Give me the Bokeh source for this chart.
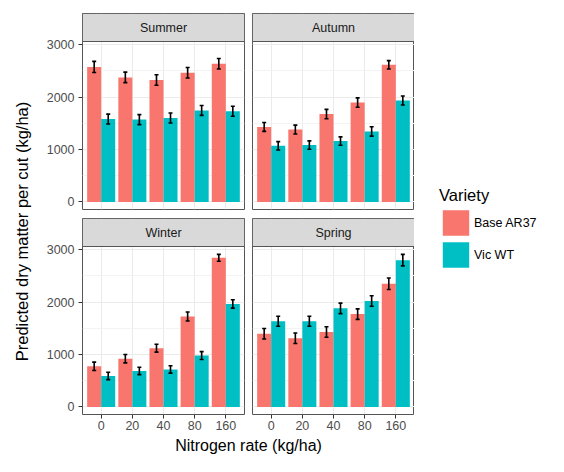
import numpy as np
from bokeh.plotting import figure
from bokeh.layouts import row, column
from bokeh.models import (ColumnDataSource, Range1d, FixedTicker, Whisker, TeeHead, Label,
                          Legend, LegendItem, BoxAnnotation)
from bokeh.transform import dodge
from bokeh.embed import file_html
from bokeh.resources import INLINE

# ---------------- data ----------------
nitrogen = ["0", "20", "40", "80", "160"]
varieties = ["Base AR37", "Vic WT"]
seasons = ["Summer", "Autumn", "Winter", "Spring"]
y_ticks = [0, 1000, 2000, 3000]
y_minor = [500, 1500, 2500]

summer_base = [2575, 2375, 2325, 2465, 2635]
summer_base_err = [105, 100, 100, 100, 100]
summer_vic = [1580, 1570, 1600, 1745, 1730]
summer_vic_err = [95, 95, 95, 95, 95]

autumn_base = [1430, 1380, 1675, 1895, 2615]
autumn_base_err = [85, 85, 90, 90, 80]
autumn_vic = [1070, 1085, 1160, 1345, 1935]
autumn_vic_err = [80, 80, 80, 90, 85]

winter_base = [775, 920, 1120, 1725, 2845]
winter_base_err = [80, 80, 75, 85, 65]
winter_vic = [590, 685, 715, 980, 1965]
winter_vic_err = [70, 70, 70, 75, 80]

spring_base = [1395, 1310, 1430, 1770, 2350]
spring_base_err = [100, 100, 100, 100, 110]
spring_vic = [1635, 1635, 1880, 2020, 2800]
spring_vic_err = [95, 95, 100, 100, 110]

colors = ["#F8766D", "#00BFC4"]
FONT = "Liberation Sans"
SMALL = "12.5px"
BIG = "16.5px"
BORDER = "#555555"

# layout geometry (px)
FRAME_W = 162
PANEL_PX = 168
STRIP_PX = 28
Y0, Y1 = -145, 3060
Y_END = Y1 + (Y1 - Y0) * STRIP_PX / PANEL_PX
X0, X1 = 0.4, len(nitrogen) + 0.6


def panel(season, base, base_err, vic, vic_err, show_x, show_y, width, height, mbl, mbr, mbt, mbb):
    p = figure(width=width, height=height, title=None,
               x_range=Range1d(X0, X1), y_range=Range1d(Y0, Y_END),
               x_axis_location="below" if show_x else None,
               y_axis_location="left" if show_y else None,
               min_border_left=mbl, min_border_right=mbr, min_border_top=mbt, min_border_bottom=mbb,
               toolbar_location=None, output_backend="svg",
               outline_line_color=BORDER, outline_line_width=1,
               background_fill_color="white", border_fill_color="white")
    xi = list(range(1, len(nitrogen) + 1))
    src = ColumnDataSource(dict(
        xi=xi, base=base, vic=vic,
        base_lo=[b - e for b, e in zip(base, base_err)], base_hi=[b + e for b, e in zip(base, base_err)],
        vic_lo=[v - e for v, e in zip(vic, vic_err)], vic_hi=[v + e for v, e in zip(vic, vic_err)],
    ))
    p.vbar(x=dodge("xi", -0.225), top="base", bottom=0, width=0.45, source=src,
           fill_color=colors[0], line_color=None)
    p.vbar(x=dodge("xi", 0.225), top="vic", bottom=0, width=0.45, source=src,
           fill_color=colors[1], line_color=None)
    for off, lo, hi in [(-0.225, "base_lo", "base_hi"), (0.225, "vic_lo", "vic_hi")]:
        w = Whisker(base=dodge("xi", off), lower=lo, upper=hi, source=src,
                    line_color="black", line_width=1.6, level="annotation",
                    upper_head=TeeHead(size=4, line_color="black", line_width=1.6),
                    lower_head=TeeHead(size=4, line_color="black", line_width=1.6))
        p.add_layout(w)

    xt = FixedTicker(ticks=xi)
    yt = FixedTicker(ticks=y_ticks, minor_ticks=y_minor)
    p.xgrid.ticker = xt
    p.ygrid.ticker = FixedTicker(ticks=y_ticks, minor_ticks=y_minor)
    p.xgrid.grid_line_color = "#EBEBEB"
    p.ygrid.grid_line_color = "#EBEBEB"
    p.ygrid.minor_grid_line_color = "#F3F3F3"
    p.ygrid.minor_grid_line_width = 1

    # facet strip
    p.add_layout(BoxAnnotation(bottom=Y1, fill_color="#D9D9D9", fill_alpha=1,
                               line_color=BORDER, line_width=1, line_alpha=1))
    p.add_layout(Label(x=(X0 + X1) / 2, y=(Y1 + Y_END) / 2, text=season,
                       text_align="center", text_baseline="middle",
                       text_font=FONT, text_font_size=SMALL, text_color="#1A1A1A"))

    if show_y:
        ax = p.yaxis[0]
        ax.ticker = yt
        ax.axis_line_color = None
        ax.major_tick_line_color = "#333333"
        ax.major_tick_out = 4
        ax.major_tick_in = 0
        ax.minor_tick_line_color = None
        ax.major_label_standoff = 4
        ax.major_label_text_color = "#4D4D4D"
        ax.major_label_text_font = FONT
        ax.major_label_text_font_size = SMALL
    if show_x:
        ax = p.xaxis[0]
        ax.ticker = xt
        ax.major_label_overrides = {i: n for i, n in zip(xi, nitrogen)}
        ax.axis_line_color = None
        ax.major_tick_line_color = "#333333"
        ax.major_tick_out = 4
        ax.major_tick_in = 0
        ax.minor_tick_line_color = None
        ax.major_label_standoff = 2
        ax.major_label_text_color = "#4D4D4D"
        ax.major_label_text_font = FONT
        ax.major_label_text_font_size = SMALL
    return p


def blank(width, height, xr, yr):
    b = figure(width=width, height=height, title=None,
               x_range=Range1d(0, xr), y_range=Range1d(0, yr),
               x_axis_location=None, y_axis_location=None, min_border=0,
               toolbar_location=None, output_backend="svg",
               outline_line_color=None, background_fill_color="white", border_fill_color="white")
    b.grid.visible = False
    return b


YL_W = 34
MBL, MBR = 48, 8
LW = MBL + FRAME_W + MBR          # 218
RW = FRAME_W                       # 162
LEG_W = 548 - YL_W - LW - RW       # 134
FRAME_H = PANEL_PX + STRIP_PX      # 196
TOP_MBT, TOP_MBB = 13, 9
BOT_MBB = 20
TOP_H = TOP_MBT + FRAME_H + TOP_MBB   # 218
BOT_H = FRAME_H + BOT_MBB             # 216
XL_H = 456 - TOP_H - BOT_H            # 22

summer = panel(seasons[0], summer_base, summer_base_err, summer_vic, summer_vic_err,
               False, True, LW, TOP_H, MBL, MBR, TOP_MBT, TOP_MBB)
autumn = panel(seasons[1], autumn_base, autumn_base_err, autumn_vic, autumn_vic_err,
               False, False, RW, TOP_H, 0, 0, TOP_MBT, TOP_MBB)
winter = panel(seasons[2], winter_base, winter_base_err, winter_vic, winter_vic_err,
               True, True, LW, BOT_H, MBL, MBR, 0, BOT_MBB)
spring = panel(seasons[3], spring_base, spring_base_err, spring_vic, spring_vic_err,
               True, False, RW, BOT_H, 0, 0, 0, BOT_MBB)

# x axis title (centred under the panels)
xl = blank(LW + RW, XL_H, LW + RW, XL_H)
xl.add_layout(Label(x=MBL + (FRAME_W * 2 + MBR) / 2, y=XL_H / 2, text="Nitrogen rate (kg/ha)",
                    text_align="center", text_baseline="middle", text_font=FONT,
                    text_font_size="16px", text_color="black"))

# y axis title
yl = blank(YL_W, 456, YL_W, 456)
yl.add_layout(Label(x=21, y=456 - 231, text="Predicted dry matter per cut (kg/ha)", angle=np.pi / 2,
                    text_align="center", text_baseline="middle", text_font=FONT,
                    text_font_size=BIG, text_color="black"))

# legend
lf = blank(LEG_W, 456, 1, 1)
r1 = lf.vbar(x=[0], top=[0], bottom=[0], width=0, fill_color=colors[0], line_color=None)
r2 = lf.vbar(x=[0], top=[0], bottom=[0], width=0, fill_color=colors[1], line_color=None)
leg = Legend(items=[LegendItem(label=varieties[0], renderers=[r1]),
                    LegendItem(label=varieties[1], renderers=[r2])],
             location="left", title="Variety",
             title_text_font=FONT, title_text_font_size=BIG, title_text_font_style="normal",
             title_text_color="black", title_standoff=2,
             label_text_font=FONT, label_text_font_size=SMALL, label_text_color="black",
             glyph_width=33, glyph_height=32, spacing=-4, label_standoff=2,
             padding=0, margin=25, border_line_color=None, background_fill_alpha=0)
lf.add_layout(leg)

left = column(row(summer, autumn), row(winter, spring), xl)
layout = row(yl, left, lf)

open("out.html", "w").write(file_html(layout, INLINE))
